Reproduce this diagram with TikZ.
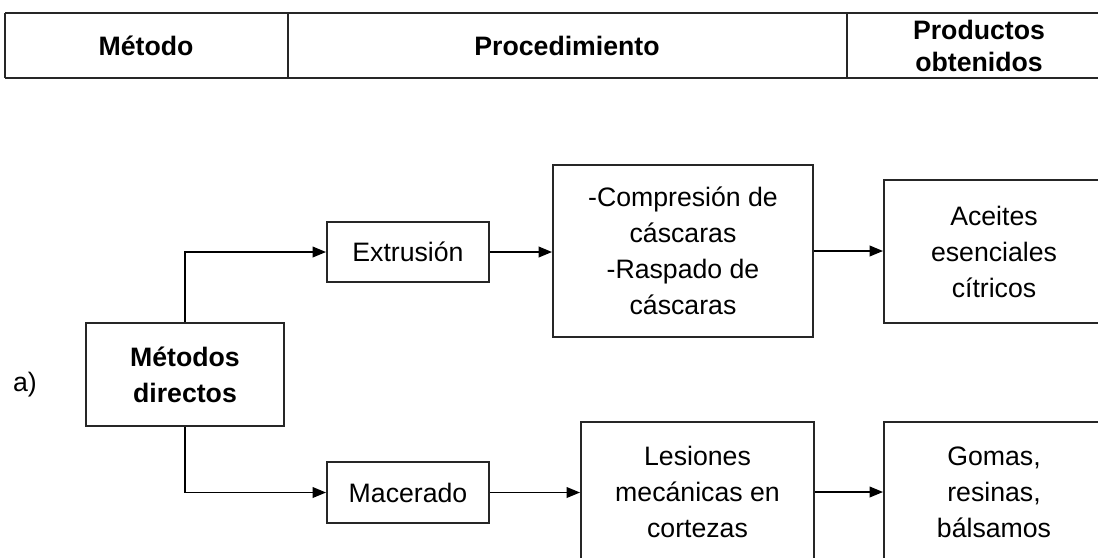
\documentclass[tikz,border=0pt]{standalone}
\usepackage{fontspec}
\setmainfont{Liberation Sans}
\usetikzlibrary{arrows.meta}
\begin{document}
\begin{tikzpicture}[x=0.75pt,y=-0.75pt,
  box/.style={draw=black!85,line width=1.5pt,rectangle,align=center,inner sep=0pt,
    font=\fontsize{20}{27}\selectfont},
  conn/.style={draw=black,line width=1.1pt,-{Triangle[length=10pt,width=8pt]}},
  head/.style={align=center,font=\fontsize{20}{24}\selectfont\bfseries},
  hline/.style={line width=2.2pt,draw=black!85},
  vline/.style={line width=1.2pt,draw=black!85}]
\useasboundingbox (0,0) rectangle (1098,557);
\clip (0,0) rectangle (1098,557);
% header table
\draw[hline] (5,13) -- (1110,13);
\draw[hline] (5,78) -- (1110,78);
\draw[vline] (5,13) -- (5,78);
\draw[vline] (288,13) -- (288,78);
\draw[vline] (847,13) -- (847,78);
\node[head] (h1) at (146,46) {Método};
\node[head] (h2) at (567,46) {Procedimiento};
\node[head] (h3) at (979,46) {Productos\\obtenidos};
% label
\node[font=\fontsize{20}{24}\selectfont] (lab) at (25,385) {a)};
% boxes
\node[box,minimum width=148.5pt,minimum height=77.25pt,font=\fontsize{20}{27}\selectfont\bfseries]
  (met) at (185,374.5) {Métodos\\directos};
\node[box,minimum width=121.5pt,minimum height=45pt] (ext) at (408,252) {Extrusión};
\node[box,minimum width=195pt,minimum height=129pt] (com) at (683,251)
  {-Compresión de\\cáscaras\\-Raspado de\\cáscaras};
\node[box,minimum width=165pt,minimum height=107.25pt] (ace) at (994,251.5)
  {Aceites\\esenciales\\cítricos};
\node[box,minimum width=121.5pt,minimum height=45.75pt] (mac) at (408,492.5) {Macerado};
\node[box,minimum width=174.75pt,minimum height=105pt] (les) at (697.5,492)
  {Lesiones\\mecánicas en\\cortezas};
\node[box,minimum width=165pt,minimum height=105pt] (gom) at (994,492)
  {Gomas,\\resinas,\\bálsamos};
% connectors
\draw[conn] (met.north) |- (ext.west);
\draw[conn] (met.south) |- (mac.west);
\draw[conn] (ext.east) -- (ext.east -| com.west);
\draw[conn] (com.east) -- (com.east -| ace.west);
\draw[conn] (mac.east) -- (mac.east -| les.west);
\draw[conn] (les.east) -- (les.east -| gom.west);
\end{tikzpicture}
\end{document}
